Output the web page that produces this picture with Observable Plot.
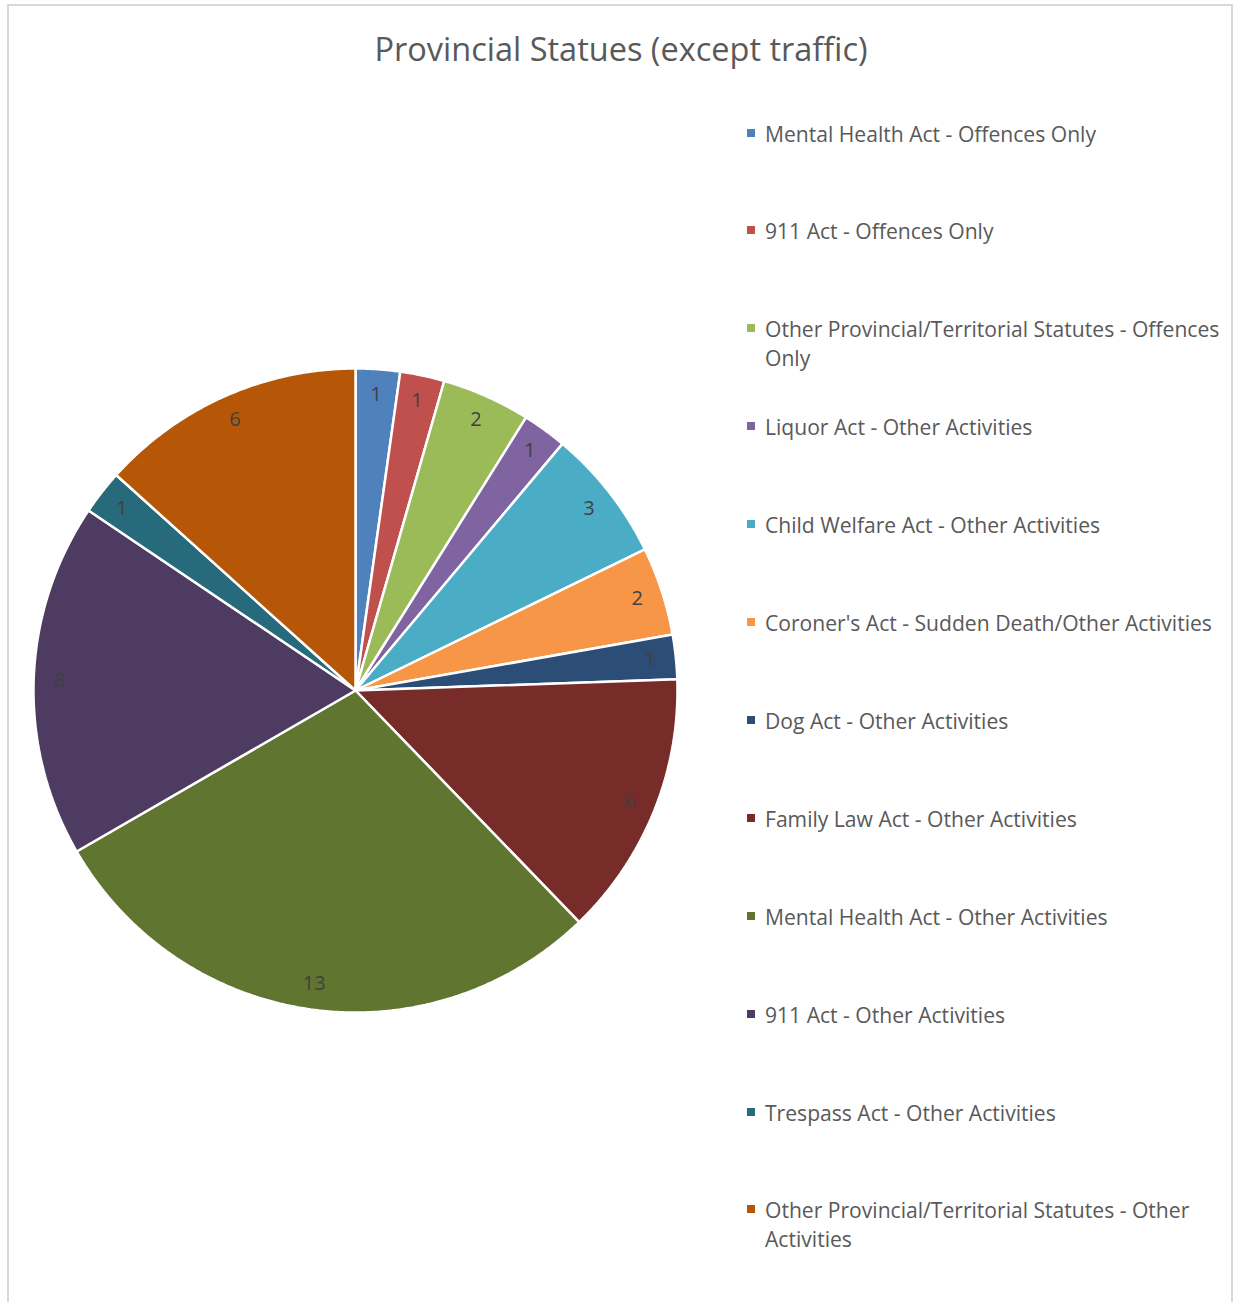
<!DOCTYPE html>
<html>
<head>
<meta charset="utf-8">
<script src="https://cdn.jsdelivr.net/npm/d3@7"></script>
<script src="https://cdn.jsdelivr.net/npm/@observablehq/plot@0.6"></script>
<style>
  html, body { margin: 0; padding: 0; background: #fff; }
  #frame { position: relative; width: 1235px; height: 1302px; overflow: hidden; font-family: "Open Sans", sans-serif; }
  #border { position: absolute; left: 7px; top: 4px; width: 1226px; height: 1310px; border: 2px solid #d9d9d9; box-sizing: border-box; }
  #title { position: absolute; left: 7px; width: 1228px; top: 27px; text-align: center; font-size: 32.5px; color: #595959; line-height: 44px; }
  #pie { position: absolute; left: 25px; top: 360px; }
  .item { position: absolute; left: 765px; max-width: 465px; font-size: 21.1px; line-height: 29px; color: #595959; }
  .sw { position: absolute; left: -18px; top: 10px; width: 8px; height: 8px; }
</style>
</head>
<body>
<div id="frame">
  <div id="border"></div>
  <div id="title">Provincial Statues (except traffic)</div>
  <div id="pie"></div>
  <div id="legend"></div>
</div>
<script>
const categories = [
  "Mental Health Act - Offences Only",
  "911 Act - Offences Only",
  "Other Provincial/Territorial Statutes - Offences Only",
  "Liquor Act - Other Activities",
  "Child Welfare Act - Other Activities",
  "Coroner's Act - Sudden Death/Other Activities",
  "Dog Act - Other Activities",
  "Family Law Act  - Other Activities",
  "Mental Health Act - Other Activities",
  "911 Act - Other Activities",
  "Trespass Act - Other Activities",
  "Other Provincial/Territorial Statutes - Other Activities"
];
const values = [1, 1, 2, 1, 3, 2, 1, 6, 13, 8, 1, 6];
const colors = ["#4F81BD", "#C0504D", "#9BBB59", "#8064A2", "#4BACC6", "#F79646",
                "#2C4D75", "#772C2A", "#5F7530", "#4D3B62", "#276A7C", "#B65708"];

const rows = categories.map((name, i) => ({name, value: values[i]}));
const arcs = d3.pie().sort(null).value(d => d.value).startAngle(0).endAngle(2 * Math.PI)(rows);

// wedge outlines derived from the pie layout (geometry only)
const wedgePts = [];
for (const a of arcs) {
  const name = a.data.name;
  wedgePts.push({name, x: 0, y: 0});
  const n = Math.max(2, Math.ceil((a.endAngle - a.startAngle) / (Math.PI / 360)));
  for (let k = 0; k <= n; k++) {
    const t = a.startAngle + (a.endAngle - a.startAngle) * k / n;
    wedgePts.push({name, x: Math.sin(t), y: Math.cos(t)});
  }
  wedgePts.push({name, x: 0, y: 0});
}
const labelPts = arcs.map(a => {
  const m = (a.startAngle + a.endAngle) / 2;
  return {name: a.data.name, value: a.data.value, x: 0.92 * Math.sin(m), y: 0.92 * Math.cos(m)};
});

const pie = Plot.plot({
  width: 660, height: 660,
  margin: 8,
  x: {domain: [-1, 1], axis: null},
  y: {domain: [-1, 1], axis: null},
  color: {domain: categories, range: colors},
  style: {fontFamily: "Open Sans, sans-serif", background: "transparent"},
  marks: [
    Plot.line(wedgePts, {x: "x", y: "y", z: "name", fill: "name", stroke: "white", strokeWidth: 2.5, strokeLinejoin: "miter", curve: "linear"}),
    Plot.text(labelPts, {x: "x", y: "y", text: d => String(d.value), fill: "#404040", fontSize: 20})
  ]
});
document.getElementById("pie").appendChild(pie);

const legend = document.getElementById("legend");
categories.forEach((name, i) => {
  const div = document.createElement("div");
  div.className = "item";
  div.style.top = (133 + 97.9 * i - 14.5) + "px";
  const sw = document.createElement("span");
  sw.className = "sw";
  sw.style.background = colors[i];
  div.appendChild(sw);
  div.appendChild(document.createTextNode(name));
  legend.appendChild(div);
});
</script>
</body>
</html>
